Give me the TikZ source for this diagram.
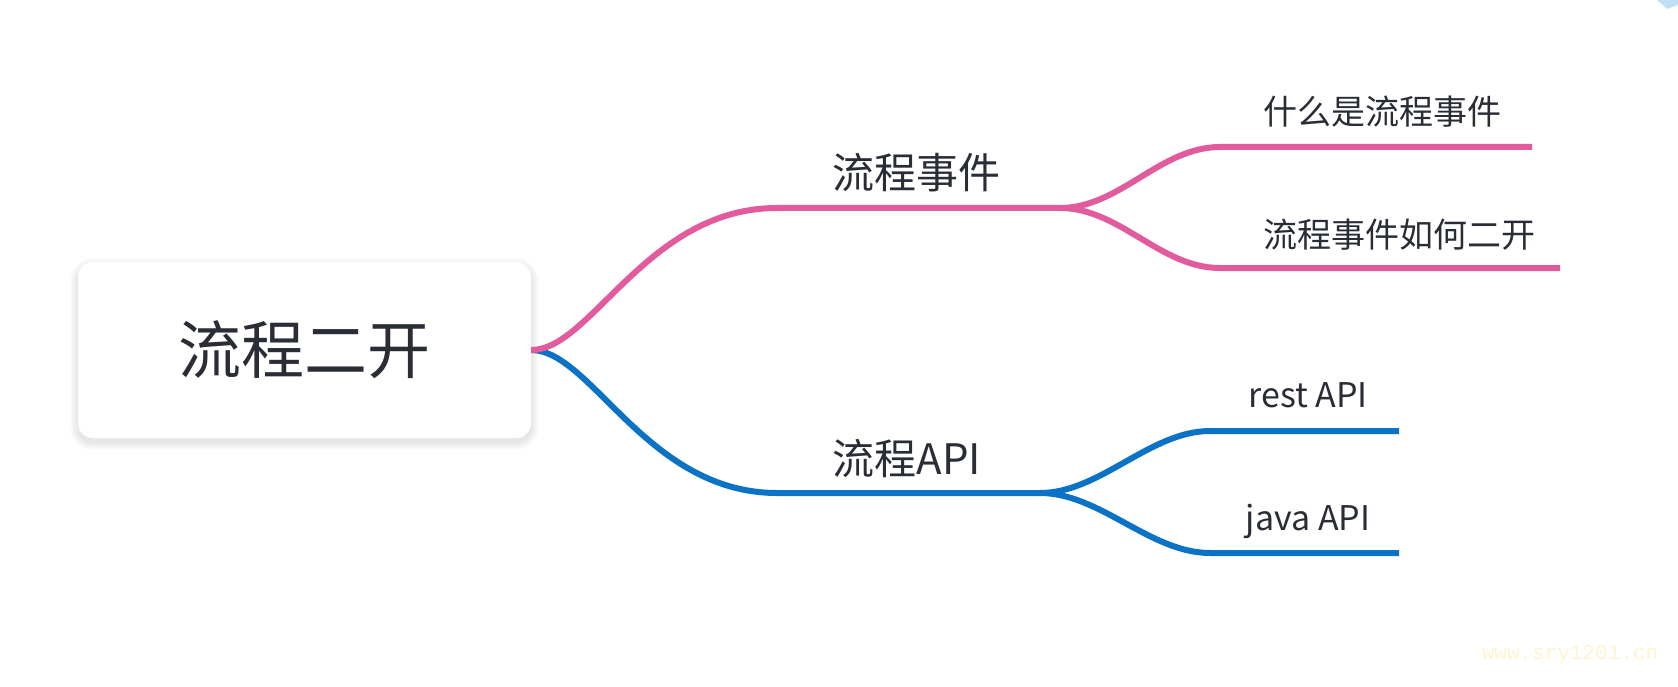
\documentclass[tikz,border=0pt]{standalone}
\usepackage{fontspec}
\setmainfont{Noto Sans CJK SC}
\newfontfamily\wmfont{Liberation Mono}

\definecolor{fenhong}{HTML}{E25C9D}
\definecolor{shenlan}{HTML}{0B73C5}
\definecolor{zise}{HTML}{2A2D36}
\definecolor{qianlan}{HTML}{BFE0F7}
\definecolor{qianhuang}{HTML}{FFF4D2}

\begin{document}
\begin{tikzpicture}[x=1pt, y=-1pt,
	zhixian/.style={line width=6pt},
	biaoqian/.style={text=zise, inner sep=0pt, anchor=center},
	]
	\def\W{1678}
	\def\H{687}
	\useasboundingbox (0,0) rectangle (\W,\H);

	%柔和阴影
	\foreach \i in {1,...,8}
		\fill [black, opacity=0.010, rounded corners=15+\i] (78-\i,266-\i) rectangle (531+\i,442+\i);

	%中心主题
	\node [fill=white, draw=black!4, rounded corners=15pt,
		minimum width=453pt, minimum height=176pt,
		text=zise, font=\fontsize{63}{70}\selectfont] (root) at (304.5,350) {流程二开};

	%分支端点
	\coordinate (evt-a) at (777,208);
	\coordinate (evt-b) at (1060,208);
	\coordinate (what-a) at (1220,147);
	\coordinate (what-b) at (1532,147);
	\coordinate (how-a) at (1220,268);
	\coordinate (how-b) at (1560,268);
	\coordinate (api-a) at (777,493);
	\coordinate (api-b) at (1040,493);
	\coordinate (rest-a) at (1210,431);
	\coordinate (rest-b) at (1399,431);
	\coordinate (java-a) at (1210,553);
	\coordinate (java-b) at (1399,553);

	%一级分支
	\draw [zhixian, shenlan] (root.east) .. controls +(60,0) and +(-130,0) .. (api-a) -- (api-b);
	\draw [zhixian, fenhong] (root.east) .. controls +(60,0) and +(-130,0) .. (evt-a) -- (evt-b);

	%二级分支
	\foreach \t in {what, how}
		\draw [zhixian, fenhong] (evt-b) .. controls +(60,0) and +(-60,0) .. (\t-a) -- (\t-b);
	\foreach \t in {rest, java}
		\draw [zhixian, shenlan] (api-b) .. controls +(60,0) and +(-60,0) .. (\t-a) -- (\t-b);

	%文字
	\node [biaoqian, font=\fontsize{42}{48}\selectfont] (evt) at (916,173) {流程事件};
	\node [biaoqian, font=\fontsize{42}{48}\selectfont] (api) at (907,458) {流程API};
	\node [biaoqian, font=\fontsize{34}{40}\selectfont] (what) at (1382,112) {什么是流程事件};
	\node [biaoqian, font=\fontsize{34}{40}\selectfont] (how) at (1399,235) {流程事件如何二开};
	\node [biaoqian, font=\fontsize{34}{40}\selectfont, anchor=base] (rest) at (1308,407) {rest API};
	\node [biaoqian, font=\fontsize{34}{40}\selectfont, anchor=base] (java) at (1308,530) {java API};

	%角落
	\fill [qianlan] (1657,0) -- (1667,9) -- (1678,5) -- (1678,0) -- cycle;
	\node [text=qianhuang, font=\wmfont\fontsize{21}{24}\selectfont, inner sep=0pt] (wm) at (1570,655) {www.sry1201.cn};
\end{tikzpicture}
\end{document}
